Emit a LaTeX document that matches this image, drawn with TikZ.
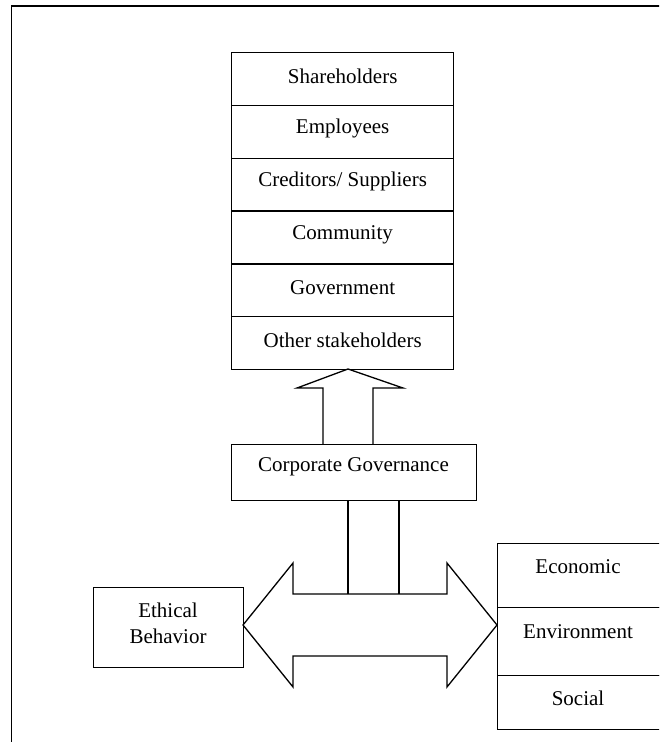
\documentclass[tikz,border=0pt]{standalone}
\usepackage{fontspec}
\setmainfont{Liberation Serif}
\usetikzlibrary{calc}
\begin{document}
\begin{tikzpicture}[x=1pt,y=-1pt,
  ln/.style={line width=1.3pt,line join=miter},
  cellbox/.style={draw,line width=1.3pt,inner sep=0pt,anchor=north west},
  txt/.style={inner sep=0pt,font=\fontsize{21}{26}\selectfont,align=center}]
\useasboundingbox (0,0) rectangle (659,742);
\begin{scope}
\clip (0,0) rectangle (659,742);
% outer frame (clipped at right and bottom)
\draw[line width=1.6pt] (11.5,760) |- (680,6);
% stakeholder stack
\foreach \i/\t in {0/Shareholders,1/Employees,2/{Creditors/ Suppliers},3/Community,4/Government,5/Other stakeholders}{
  \node[cellbox,minimum width=222pt,minimum height=52.83pt] (s\i) at (231,{52+52.83*\i}) {};
  \node[txt] (st\i) at ($(s\i.north)+(0,24)$) {\t};
}
% up arrow
\draw[ln] (323,444) -- (323,388) -- (297,388) -- (348,369) -- (403,388) -- (373,388) -- (373,444);
% corporate governance
\node[cellbox,minimum width=245pt,minimum height=56pt] (cg) at (231,444) {};
\node[txt] (cgt) at (353.5,467) {Corporate Governance};
% vertical shaft
\draw[ln] (348,500) -- (348,594);
\draw[ln] (399,500) -- (399,594);
% double arrow
\draw[ln] (293,594) -- (293,563) -- (243,625) -- (293,687) -- (293,656) -- (447,656) -- (447,687) -- (497,625) -- (447,563) -- (447,594) -- cycle;
% ethical behavior
\node[cellbox,minimum width=150pt,minimum height=80pt] (eb) at (93,587) {};
\node[txt] (ebt) at (168,623) {Ethical\\Behavior};
% right stack
\node[cellbox,minimum width=170pt,minimum height=64pt] (r0) at (497,543) {};
\node[cellbox,minimum width=170pt,minimum height=68pt] (r1) at (497,607) {};
\node[cellbox,minimum width=170pt,minimum height=54pt] (r2) at (497,675) {};
\node[txt] (rt0) at (578,567) {Economic};
\node[txt] (rt1) at (578,632) {Environment};
\node[txt] (rt2) at (578,698) {Social};
\end{scope}
\end{tikzpicture}
\end{document}
